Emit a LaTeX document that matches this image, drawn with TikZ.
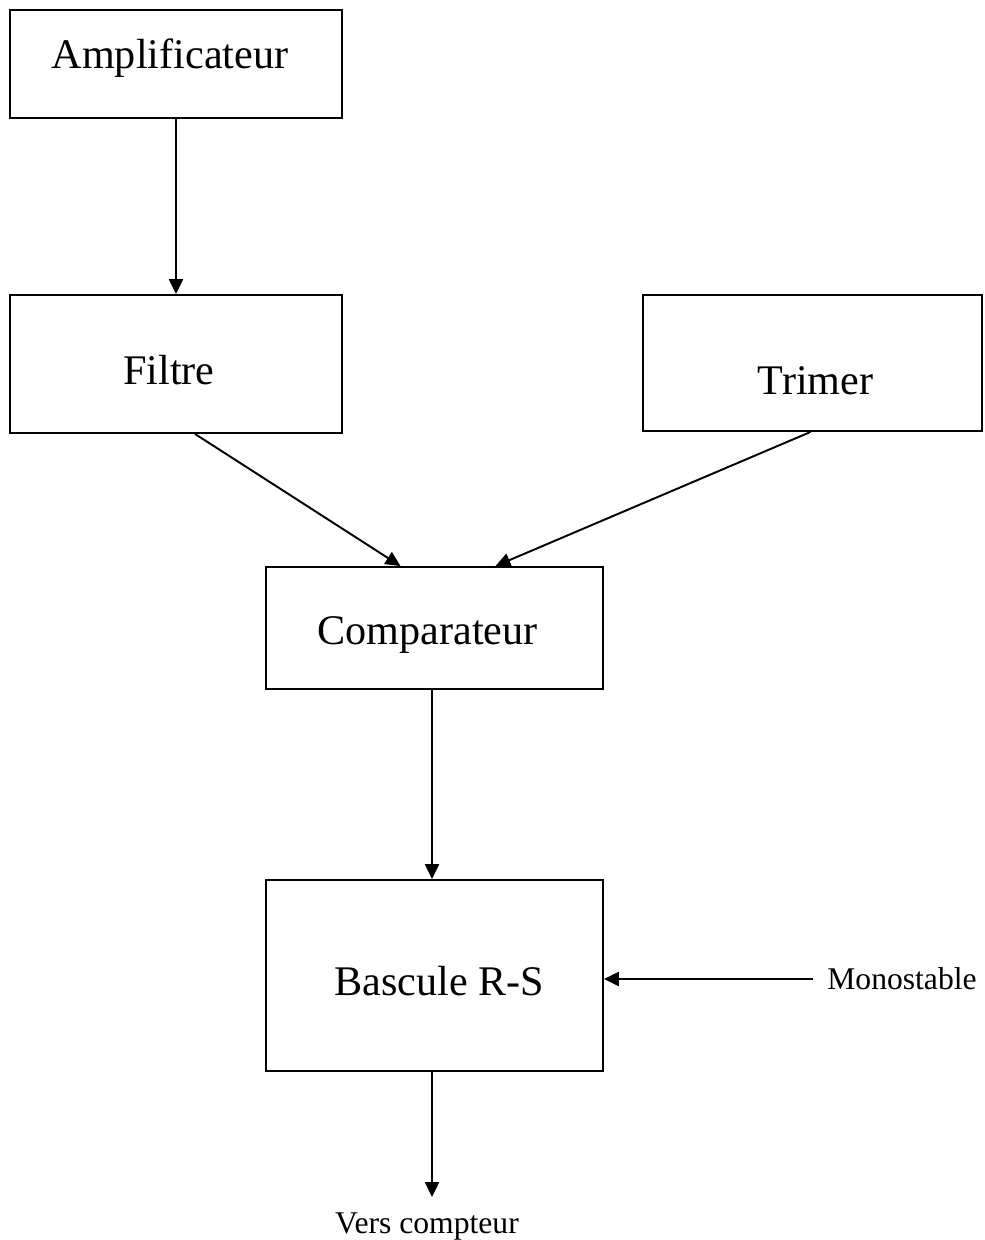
\documentclass[tikz,border=0pt]{standalone}
\usepackage{fontspec}
\setmainfont{Liberation Serif}
\usetikzlibrary{positioning}
\usetikzlibrary{arrows.meta, calc}

\begin{document}
\begin{tikzpicture} [
          x=0.02cm, y=-0.02cm,
          block/.style = {draw, line width=1.1pt, inner sep=0pt},
          tag/.style = {font=\fontsize{24}{28}\selectfont},
          signal/.style = {font=\fontsize{18}{22}\selectfont},
          link/.style = {line width=1.1pt, -{Triangle[length=8.5pt, width=8pt]}}
          ]
          \useasboundingbox (0,0) rectangle (984,1240);
          \node[block, minimum width=6.64cm, minimum height=2.16cm,
                label={[tag, xshift=-0.12cm, yshift=0.12cm]center:Amplificateur}] (ampli) at (176,64) {};
          \node[block, minimum width=6.64cm, minimum height=2.76cm,
                label={[tag, xshift=-0.14cm, yshift=-0.12cm]center:Filtre}] (filtre) at (176,364) {};
          \node[block, minimum width=6.78cm, minimum height=2.72cm,
                label={[tag, xshift=0.06cm, yshift=-0.36cm]center:Trimer}] (trimer) at (812.5,363) {};
          \node[block, minimum width=6.74cm, minimum height=2.44cm,
                label={[tag, xshift=-0.14cm, yshift=-0.14cm]center:Comparateur}] (comp) at (434.5,628) {};
          \node[block, minimum width=6.74cm, minimum height=3.82cm,
                label={[tag, xshift=0.1cm, yshift=-0.12cm]center:Bascule R-S}] (bascule) at (434.5,975.5) {};
          \node[signal, inner xsep=8pt] (mono) at (902,979) {Monostable};
          \node[signal, anchor=north, outer sep=5.5pt] (vers) at (427,1197) {Vers compteur};
          \draw[link] (ampli) -- (filtre);
          \draw[link] ($(filtre.south)+(19,0)$) -- ($(comp.north)+(-34,0)$);
          \draw[link] ($(trimer.south)+(-2,0)$) -- ($(comp.north)+(61,0)$);
          \draw[link] ($(comp.south)+(-2.5,0)$) -- ($(bascule.north)+(-2.5,0)$);
          \draw[link] (mono.west) -- (mono.west -| bascule.east);
          \draw[link] ($(bascule.south)+(-2.5,0)$) -- ($(bascule.south |- vers.north)+(-2.5,0)$);
        \end{tikzpicture}
\end{document}
